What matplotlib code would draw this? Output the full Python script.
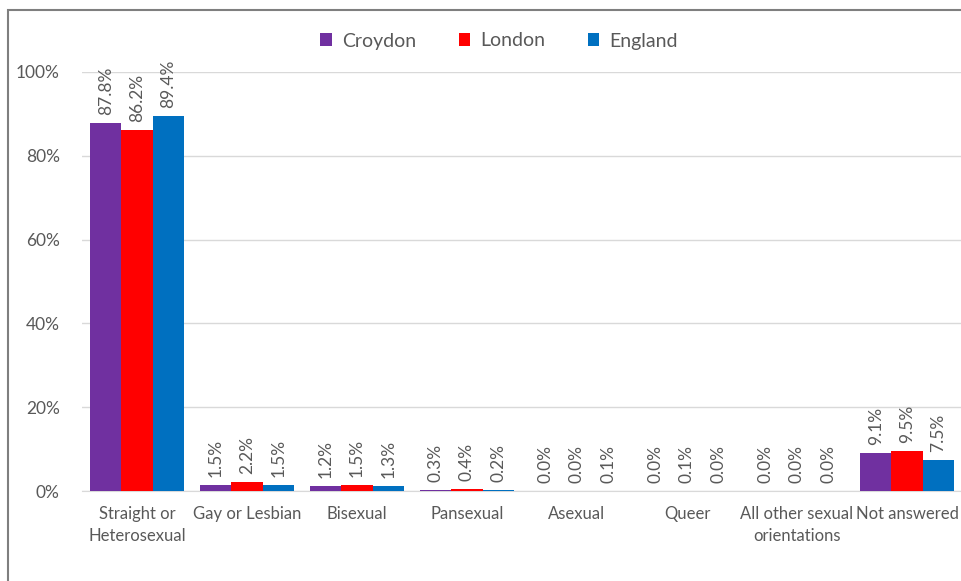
import numpy as np
import matplotlib.pyplot as plt
from matplotlib.patches import Rectangle

plt.rcParams['font.family'] = ['Lato', 'DejaVu Sans']

categories = ["Straight or\nHeterosexual", "Gay or Lesbian", "Bisexual", "Pansexual",
              "Asexual", "Queer", "All other sexual\norientations", "Not answered"]
series = ["Croydon", "London", "England"]
croydon = [87.8, 1.5, 1.2, 0.3, 0.01, 0.01, 0.01, 9.1]
london = [86.2, 2.2, 1.5, 0.4, 0.04, 0.06, 0.04, 9.5]
england = [89.4, 1.5, 1.3, 0.2, 0.05, 0.04, 0.04, 7.5]
colors = ["#7030A0", "#FF0000", "#0070C0"]
grey = "#595959"

fig = plt.figure(figsize=(9.62, 5.81), dpi=100)
fig.patches.append(Rectangle((8 / 962, -0.1), 1.2, (581 - 10) / 581 + 0.1,
                             transform=fig.transFigure, fill=False,
                             edgecolor="#7f7f7f", linewidth=1.5))
ax = fig.add_axes([82 / 962, (581 - 491) / 581, 880 / 962, (491 - 72) / 581])

x = np.arange(len(categories))
w = 0.285
for i, (name, vals) in enumerate(zip(series, [croydon, london, england])):
    pos = x + (i - 1) * w
    ax.bar(pos, vals, w, color=colors[i], label=name, zorder=3)
    for p, v in zip(pos, vals):
        ax.text(p, v + 1.9, f"{v:.1f}%", rotation=90, ha="center", va="bottom",
                fontsize=12.5, color=grey)

ax.set_xlim(-0.5, len(categories) - 0.5)
ax.set_ylim(0, 100)
ax.set_yticks(range(0, 101, 20))
ax.set_yticklabels([f"{t}%" for t in range(0, 101, 20)], fontsize=12.5)
ax.set_xticks(x)
ax.set_xticklabels(categories, fontsize=12, linespacing=1.45)
ax.tick_params(axis="both", length=0, colors=grey)
ax.tick_params(axis="x", pad=11)
ax.tick_params(axis="y", pad=16)
ax.grid(axis="y", color="#d9d9d9", linewidth=1, zorder=0)
for s in ["top", "right", "left"]:
    ax.spines[s].set_visible(False)
ax.spines["bottom"].set_color("#d9d9d9")

fig.legend(loc="center", bbox_to_anchor=(499 / 962, 1 - 41 / 581), ncol=3,
           frameon=False, fontsize=14, handlelength=0.6, handleheight=0.6,
           handletextpad=0.5, columnspacing=2.2, labelcolor=grey)

fig.savefig("out.png", dpi=100)
